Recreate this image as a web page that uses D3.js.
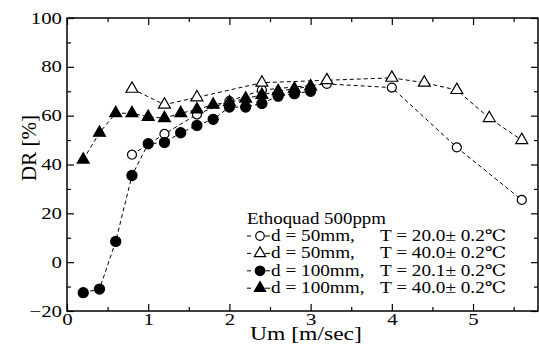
<!DOCTYPE html>
<html lang="en">
<head>
<meta charset="UTF-8">
<title>DR vs Um</title>
<script src="https://cdn.jsdelivr.net/npm/d3@7/dist/d3.min.js"></script>
<style>
body { margin: 0; background: #fff; }
</style>
</head>
<body>
<svg width="539" height="352"></svg>
<script>
// d = 50mm, T = 20.0
var um50_20 = [0.8, 1.2, 1.6, 2.0, 2.4, 3.2, 4.0, 4.8, 5.6];
var dr50_20 = [44, 52.5, 60.5, 66, 70.5, 73, 71.5, 47, 25.5];
// d = 50mm, T = 40.0
var um50_40 = [0.8, 1.2, 1.6, 2.4, 3.2, 4.0, 4.4, 4.8, 5.2, 5.6];
var dr50_40 = [71, 64.5, 67.5, 73.5, 74.5, 75.5, 73.5, 70.5, 59, 50];
// d = 100mm, T = 20.1
var um100_20 = [0.2, 0.4, 0.6, 0.8, 1.0, 1.2, 1.4, 1.6, 1.8, 2.0, 2.2, 2.4, 2.6, 2.8, 3.0];
var dr100_20 = [-12.5, -11, 8.5, 35.5, 48.5, 49, 53, 56, 58.5, 63.5, 63.5, 65, 68, 69, 70];
// d = 100mm, T = 40.0
var um100_40 = [0.2, 0.4, 0.6, 0.8, 1.0, 1.2, 1.4, 1.6, 1.8, 2.0, 2.2, 2.4, 2.6, 2.8, 3.0];
var dr100_40 = [42, 53, 61, 61, 59.5, 59, 61, 62.5, 64.5, 65.5, 67, 68.5, 70, 71, 72];

var xTicks = [0, 1, 2, 3, 4, 5];
var yTicks = [-20, 0, 20, 40, 60, 80, 100];
var legendTitle = 'Ethoquad 500ppm';
var legendD = ['d = 50mm,', 'd = 50mm,', 'd = 100mm,', 'd = 100mm,'];
var legendT = ['T = 20.0\u00b1 0.2\u2103', 'T = 40.0\u00b1 0.2\u2103', 'T = 20.1\u00b1 0.2\u2103', 'T = 40.0\u00b1 0.2\u2103'];

var FONT = '"Liberation Serif", "DejaVu Serif", serif';
var svg = d3.select('svg').style('font-family', FONT);
var L = 67, R = 538, T = 18, B = 311;
var x = d3.scaleLinear().domain([0, 5.8]).range([L, R]);
var y = d3.scaleLinear().domain([-20, 100]).range([B, T]);

var xMinor = d3.range(0.5, 5.8, 1);
var yMinor = d3.range(-10, 100, 20);

// the original picture is a bit wide, so widen the text to match
function stretch(sel, k) {
    sel.each(function() {
        var w = this.getComputedTextLength();
        if (w > 0) d3.select(this).attr('textLength', w * k).attr('lengthAdjust', 'spacingAndGlyphs');
    });
}

function axisStyle(g) {
    g.attr('font-family', null).style('font-family', FONT);
    g.select('.domain').remove();
    g.selectAll('line').attr('stroke', '#000').attr('stroke-width', 1.2);
    g.selectAll('text').attr('font-size', 16).attr('fill', '#000').style('font-family', FONT);
    stretch(g.selectAll('text'), 1.3);
}

// bottom / top
svg.append('g').attr('transform', 'translate(0,' + B + ')')
    .call(d3.axisBottom(x).tickValues(xTicks).tickSize(-7).tickPadding(3).tickFormat(d3.format('d')))
    .call(axisStyle);
svg.append('g').attr('transform', 'translate(0,' + B + ')')
    .call(d3.axisBottom(x).tickValues(xMinor).tickSize(-4).tickFormat(''))
    .call(axisStyle);
svg.append('g').attr('transform', 'translate(0,' + T + ')')
    .call(d3.axisTop(x).tickValues(xTicks).tickSize(-7).tickFormat(''))
    .call(axisStyle);
svg.append('g').attr('transform', 'translate(0,' + T + ')')
    .call(d3.axisTop(x).tickValues(xMinor).tickSize(-4).tickFormat(''))
    .call(axisStyle);
// left / right
svg.append('g').attr('transform', 'translate(' + L + ',0)')
    .call(d3.axisLeft(y).tickValues(yTicks).tickSize(-7).tickPadding(5).tickFormat(d3.format('d')))
    .call(axisStyle);
svg.append('g').attr('transform', 'translate(' + L + ',0)')
    .call(d3.axisLeft(y).tickValues(yMinor).tickSize(-4).tickFormat(''))
    .call(axisStyle);
svg.append('g').attr('transform', 'translate(' + R + ',0)')
    .call(d3.axisRight(y).tickValues(yTicks).tickSize(-7).tickFormat(''))
    .call(axisStyle);
svg.append('g').attr('transform', 'translate(' + R + ',0)')
    .call(d3.axisRight(y).tickValues(yMinor).tickSize(-4).tickFormat(''))
    .call(axisStyle);

svg.append('rect').attr('x', L).attr('y', T).attr('width', R - L).attr('height', B - T)
    .attr('fill', 'none').attr('stroke', '#000').attr('stroke-width', 1.5);

// axis titles
svg.append('text').attr('x', 306).attr('y', 340)
    .attr('text-anchor', 'middle').attr('font-size', 19).text('Um [m/sec]')
    .call(stretch, 1.24);
svg.append('text').attr('transform', 'translate(36,148) rotate(-90)')
    .attr('text-anchor', 'middle').attr('font-size', 21).text('DR [%]');

var series = [
    {um: um50_20, dr: dr50_20, shape: d3.symbolCircle, size: 64, fill: '#fff'},
    {um: um100_20, dr: dr100_20, shape: d3.symbolCircle, size: 80, fill: '#000'},
    {um: um100_40, dr: dr100_40, shape: d3.symbolTriangle, size: 62, fill: '#000'},
    {um: um50_40, dr: dr50_40, shape: d3.symbolTriangle, size: 62, fill: '#fff'}
];

var line = d3.line().x(function(d) { return x(d[0]); }).y(function(d) { return y(d[1]); });

series.forEach(function(s) {
    var pts = d3.zip(s.um, s.dr);
    svg.append('path').datum(pts).attr('d', line)
        .attr('fill', 'none').attr('stroke', '#000').attr('stroke-width', 1).attr('stroke-dasharray', '4,3');
});
series.forEach(function(s) {
    var pts = d3.zip(s.um, s.dr);
    svg.append('g').selectAll('path').data(pts).enter().append('path')
        .attr('transform', function(d) { return 'translate(' + x(d[0]) + ',' + y(d[1]) + ')'; })
        .attr('d', d3.symbol().type(s.shape).size(s.size))
        .attr('fill', s.fill).attr('stroke', '#000').attr('stroke-width', 1.2);
});

// legend
var lg = svg.append('g');
lg.append('text').attr('x', 247).attr('y', 224).attr('font-size', 16).text(legendTitle)
    .call(stretch, 1.18);
var legendOrder = [0, 3, 1, 2];
legendOrder.forEach(function(si, i) {
    var s = series[si];
    var by = 241 + i * 17.4;
    var cy = by - 5;
    lg.append('line').attr('x1', 247).attr('x2', 251).attr('y1', cy).attr('y2', cy).attr('stroke', '#000');
    lg.append('line').attr('x1', 265).attr('x2', 270).attr('y1', cy).attr('y2', cy).attr('stroke', '#000');
    lg.append('path').attr('transform', 'translate(260,' + cy + ')')
        .attr('d', d3.symbol().type(s.shape).size(s.size * 0.9))
        .attr('fill', s.fill).attr('stroke', '#000').attr('stroke-width', 1.2);
    lg.append('text').attr('x', 271).attr('y', by).attr('font-size', 16).text(legendD[i])
        .call(stretch, 1.2);
    lg.append('text').attr('x', 380).attr('y', by).attr('font-size', 16).text(legendT[i])
        .call(stretch, 1.2);
});
</script>
</body>
</html>
